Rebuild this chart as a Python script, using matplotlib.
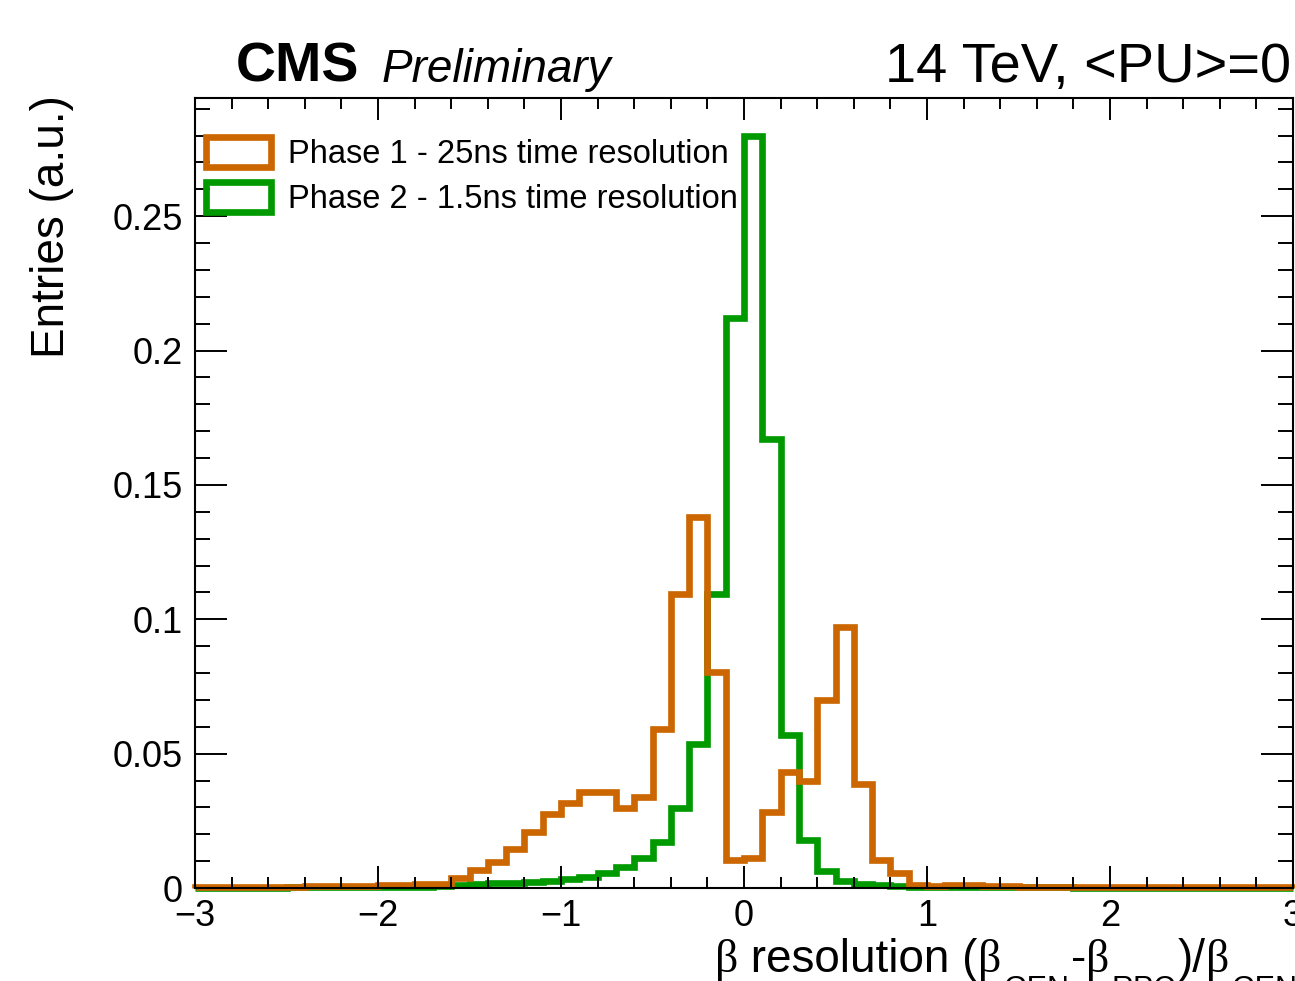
import numpy as np
import matplotlib
matplotlib.use("Agg")
import matplotlib.pyplot as plt
from matplotlib.ticker import MultipleLocator, FuncFormatter
from matplotlib.patches import Patch

plt.rcParams['font.family'] = ['Liberation Sans', 'DejaVu Sans']

# ---- data ----
bin_edges = np.round(np.arange(-3.0, 3.0001, 0.1), 2)

phase1_25ns = [
    0.0004, 0.0004, 0.0004, 0.0005, 0.0005, 0.0005, 0.0006, 0.0007, 0.0008, 0.0009,
    0.0010, 0.0012, 0.0015, 0.0016, 0.0036, 0.0067, 0.0098, 0.0144, 0.0210, 0.0274,
    0.0315, 0.0358, 0.0357, 0.0296, 0.0339, 0.0593, 0.1095, 0.1380, 0.0805, 0.0104,
    0.0113, 0.0283, 0.0430, 0.0400, 0.0700, 0.0970, 0.0388, 0.0104, 0.0056, 0.0010,
    0.0008, 0.0012, 0.0012, 0.0008, 0.0006, 0.0005, 0.0005, 0.0005, 0.0005, 0.0005,
    0.0005, 0.0005, 0.0005, 0.0005, 0.0005, 0.0005, 0.0005, 0.0005, 0.0005, 0.0005,
]

phase2_1p5ns = [
    0.0001, 0.0001, 0.0001, 0.0001, 0.0001, 0.0002, 0.0002, 0.0002, 0.0002, 0.0003,
    0.0003, 0.0004, 0.0005, 0.0007, 0.0013, 0.0015, 0.0017, 0.0020, 0.0024, 0.0026,
    0.0032, 0.0042, 0.0054, 0.0079, 0.0113, 0.0172, 0.0296, 0.0537, 0.1095, 0.2120,
    0.2800, 0.1670, 0.0570, 0.0180, 0.0065, 0.0027, 0.0015, 0.0010, 0.0007, 0.0005,
    0.0004, 0.0003, 0.0003, 0.0003, 0.0002, 0.0002, 0.0002, 0.0002, 0.0001, 0.0001,
    0.0001, 0.0001, 0.0001, 0.0001, 0.0001, 0.0001, 0.0001, 0.0001, 0.0001, 0.0001,
]

labels = ["Phase 1 - 25ns time resolution", "Phase 2 - 1.5ns time resolution"]
colors = ["#CC6600", "#009900"]

# ---- figure ----
W, H = 1295, 981
fig = plt.figure(figsize=(W / 100, H / 100), dpi=100)
ax = fig.add_axes([195 / W, (H - 888) / H, (1293 - 195) / W, (888 - 98) / H])

lw = 4.8
ax.stairs(phase2_1p5ns, bin_edges, color=colors[1], lw=lw, baseline=0, clip_on=False)
ax.stairs(phase1_25ns, bin_edges, color=colors[0], lw=lw, baseline=0, clip_on=False)

ax.set_xlim(-3, 3)
ax.set_ylim(0, 0.294)

ax.xaxis.set_major_locator(MultipleLocator(1))
ax.xaxis.set_minor_locator(MultipleLocator(0.2))
ax.yaxis.set_major_locator(MultipleLocator(0.05))
ax.yaxis.set_minor_locator(MultipleLocator(0.01))


def yfmt(v, pos):
    return "%g" % round(v, 4)


def xfmt(v, pos):
    return ("%g" % round(v, 4)).replace("-", "\u2212")


ax.xaxis.set_major_formatter(FuncFormatter(xfmt))
ax.yaxis.set_major_formatter(FuncFormatter(yfmt))

for s in ax.spines.values():
    s.set_linewidth(1.5)

ax.tick_params(axis='both', which='both', direction='in', top=True, right=True, width=1.4)
ax.tick_params(axis='x', which='major', length=16, labelsize=26, pad=8)
ax.tick_params(axis='x', which='minor', length=8)
ax.tick_params(axis='y', which='major', length=23, labelsize=26, pad=9)
ax.tick_params(axis='y', which='minor', length=11)

# legend
handles = [Patch(facecolor='none', edgecolor=c, lw=lw) for c in colors]
leg = ax.legend(handles, labels, loc='upper left',
                bbox_to_anchor=(206 / W, 1 - 137 / H), bbox_transform=fig.transFigure,
                frameon=False, fontsize=23.5, borderpad=0, borderaxespad=0,
                handlelength=2.0, handleheight=1.05, handletextpad=0.5,
                labelspacing=0.36)

# header texts
fig.text(236 / W, 1 - 82 / H, "CMS", fontsize=40, fontweight='bold', va='baseline', ha='left')
fig.text(382 / W, 1 - 82 / H, "Preliminary", fontsize=33, fontstyle='italic', va='baseline', ha='left')
fig.text(885 / W, 1 - 82 / H, "14 TeV, <PU>=0", fontsize=40.3, va='baseline', ha='left')

# axis titles
fig.text(52 / W, 1 - 95 / H, "Entries (a.u.)", fontsize=33, rotation=90, ha='center', va='top')

# x title built piece by piece (ROOT-style low subscripts)
fig.canvas.draw()
renderer = fig.canvas.get_renderer()
main_base = 972
sub_base = 998
pieces = [
    ("β", 33, 'Liberation Serif', main_base, 0),
    (" resolution (", 33, 'Liberation Sans', main_base, 0),
    ("β", 33, 'Liberation Serif', main_base, 2),
    ("GEN", 22, 'Liberation Sans', sub_base, 2),
    ("-", 33, 'Liberation Sans', main_base, 0),
    ("β", 33, 'Liberation Serif', main_base, 2),
    ("RPC", 22, 'Liberation Sans', sub_base, 2),
    (")/", 33, 'Liberation Sans', main_base, 0),
    ("β", 33, 'Liberation Serif', main_base, 2),
    ("GEN", 22, 'Liberation Sans', sub_base, 0),
]
xpos = 715.0
for txt, fs, fam, base, gap in pieces:
    t = fig.text(xpos / W, 1 - base / H, txt, fontsize=fs, family=fam,
                 ha='left', va='baseline')
    bb = t.get_window_extent(renderer)
    xpos += bb.width + gap

fig.savefig("out.png", dpi=100)
